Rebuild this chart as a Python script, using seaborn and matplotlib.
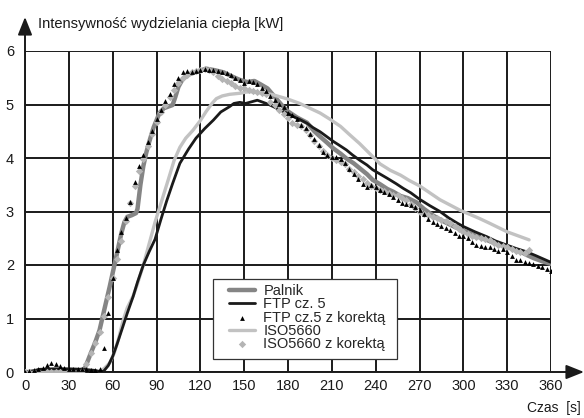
import numpy as np
import pandas as pd
import matplotlib
matplotlib.use("Agg")
import matplotlib.pyplot as plt
from matplotlib.patches import Rectangle
import seaborn as sns

# ---------------- data ----------------
palnik_t = [0, 10, 20, 30, 38, 41, 45, 48, 51, 55, 58, 60, 62, 64, 66, 68, 70, 73, 76, 77, 79, 81, 83, 85, 88, 92,
            95, 98, 101, 103, 105, 108, 112, 117, 124, 130, 136, 142, 147, 152, 157, 161, 166, 171, 176, 180, 186,
            193, 198, 202, 207, 211, 216, 220, 225, 229, 234, 238, 243, 248, 252, 257, 262, 268, 273, 279, 284,
            289, 295, 302, 308, 316, 322, 330, 335, 339, 344, 348, 354, 360]
palnik_v = [0, 0, 0.02, 0.03, 0.03, 0.07, 0.35, 0.55, 0.78, 1.25, 1.6, 1.85, 2.1, 2.35, 2.6, 2.8, 2.9, 2.93, 2.97,
            3.05, 3.5, 3.85, 4.1, 4.3, 4.57, 4.84, 4.93, 4.96, 4.99, 5.15, 5.33, 5.48, 5.56, 5.61, 5.67, 5.64, 5.60,
            5.52, 5.46, 5.42, 5.44, 5.38, 5.30, 5.14, 4.98, 4.87, 4.76, 4.66, 4.50, 4.40, 4.28, 4.18, 4.08, 3.99,
            3.90, 3.81, 3.70, 3.59, 3.51, 3.42, 3.37, 3.29, 3.25, 3.17, 3.05, 2.93, 2.85, 2.78, 2.70, 2.62, 2.55,
            2.47, 2.40, 2.34, 2.29, 2.25, 2.18, 2.13, 2.07, 2.02]

ftp_t = [0, 5, 10, 20, 30, 40, 48, 52, 54, 57, 60, 63, 67, 70, 74, 77, 81, 85, 89, 93, 97, 101, 106, 112, 117, 123,
         129, 134, 140, 143, 147, 151, 155, 159, 163, 166, 170, 175, 180, 184, 188, 193, 197, 202, 206, 211, 215,
         220, 224, 229, 234, 238, 243, 248, 254, 259, 264, 270, 277, 284, 290, 296, 300, 308, 316, 322, 330, 336,
         343, 350, 355, 360]
ftp_v = [0, 0.02, 0.05, 0.06, 0.06, 0.05, 0.03, 0.0, 0.02, 0.12, 0.29, 0.52, 0.85, 1.1, 1.41, 1.68, 2.0, 2.25, 2.48,
         2.85, 3.2, 3.52, 3.9, 4.17, 4.37, 4.55, 4.71, 4.86, 4.96, 5.02, 5.04, 5.02, 5.05, 5.08, 5.04, 5.01, 4.96,
         4.89, 4.83, 4.77, 4.72, 4.65, 4.57, 4.49, 4.41, 4.31, 4.24, 4.15, 4.06, 3.96, 3.87, 3.78, 3.70, 3.62,
         3.52, 3.43, 3.35, 3.23, 3.11, 3.00, 2.88, 2.78, 2.72, 2.62, 2.53, 2.45, 2.37, 2.31, 2.25, 2.17, 2.11, 2.05]

iso_t = [0, 10, 20, 30, 40, 48, 51, 54, 58, 61, 64, 67, 70, 74, 77, 81, 85, 89, 93, 98, 102, 106, 110, 115, 120,
         124, 128, 131, 135, 140, 147, 151, 154, 160, 165, 170, 175, 180, 188, 195, 202, 209, 216, 222, 229, 236,
         243, 250, 257, 263, 270, 277, 284, 291, 298, 305, 311, 318, 324, 330, 336, 341, 345]
iso_v = [0, 0, 0, 0, 0, 0, 0.02, 0.06, 0.17, 0.35, 0.62, 0.95, 1.2, 1.42, 1.65, 2.0, 2.4, 2.8, 3.15, 3.59, 3.95,
         4.2, 4.37, 4.52, 4.7, 4.87, 5.02, 5.11, 5.16, 5.19, 5.21, 5.23, 5.24, 5.22, 5.21, 5.18, 5.14, 5.10, 5.02,
         4.93, 4.84, 4.72, 4.59, 4.44, 4.27, 4.08, 3.89, 3.77, 3.68, 3.58, 3.48, 3.35, 3.22, 3.12, 3.02, 2.94,
         2.87, 2.78, 2.70, 2.62, 2.56, 2.51, 2.47]

ftpk_t = list(range(0, 361, 3))
ftpk_v = [0.0, 0.02, 0.03, 0.05, 0.08, 0.13, 0.16, 0.15, 0.11, 0.07, 0.06, 0.06, 0.05, 0.05, 0.05, 0.04, 0.04,
          0.05, 0.45, 1.1, 1.75, 2.28, 2.62, 2.88, 3.18, 3.55, 3.85, 4.06, 4.3, 4.5, 4.72, 4.9, 5.06, 5.2, 5.38,
          5.5, 5.6, 5.62, 5.6, 5.63, 5.64, 5.67, 5.65, 5.64, 5.63, 5.6, 5.58, 5.56, 5.5, 5.46, 5.4, 5.44, 5.42,
          5.38, 5.3, 5.25, 5.16, 5.08, 5.01, 4.95, 4.85, 4.8, 4.72, 4.62, 4.57, 4.45, 4.36, 4.24, 4.12, 4.05, 4.02,
          4.02, 3.98, 3.9, 3.8, 3.7, 3.6, 3.52, 3.45, 3.5, 3.45, 3.4, 3.36, 3.33, 3.28, 3.22, 3.16, 3.14, 3.12,
          3.08, 3.03, 2.95, 2.86, 2.8, 2.76, 2.72, 2.7, 2.66, 2.6, 2.55, 2.54, 2.5, 2.43, 2.38, 2.36, 2.34, 2.33,
          2.3, 2.26, 2.3, 2.25, 2.16, 2.1, 2.09, 2.06, 2.04, 2.02, 1.99, 1.96, 1.92, 1.88]

isok_t = list(range(0, 346, 3))
isok_v = [0, 0, 0, 0, 0, 0, 0, 0, 0, 0, 0, 0, 0, 0.01, 0.15, 0.35, 0.55, 0.75, 1.05, 1.4, 1.75, 2.12, 2.45, 2.82,
          3.15, 3.47, 3.75, 3.98, 4.22, 4.45, 4.68, 4.86, 5.0, 5.14, 5.27, 5.4, 5.5, 5.56, 5.6, 5.62, 5.64, 5.66,
          5.64, 5.6, 5.53, 5.47, 5.44, 5.4, 5.35, 5.31, 5.3, 5.28, 5.26, 5.24, 5.22, 5.2, 5.05, 5.0, 4.9, 4.82,
          4.74, 4.66, 4.62, 4.59, 4.53, 4.43, 4.32, 4.22, 4.14, 4.06, 4.0, 3.97, 3.93, 3.88, 3.8, 3.74, 3.67, 3.6,
          3.53, 3.47, 3.43, 3.4, 3.38, 3.35, 3.31, 3.3, 3.26, 3.21, 3.14, 3.07, 3.0, 2.96, 2.93, 2.9, 2.88, 2.85,
          2.82, 2.78, 2.72, 2.67, 2.62, 2.58, 2.55, 2.52, 2.5, 2.48, 2.46, 2.42, 2.38, 2.35, 2.34, 2.3, 2.26, 2.24,
          2.22, 2.28]

x_ticks = [0, 30, 60, 90, 120, 150, 180, 210, 240, 270, 300, 330, 360]
y_ticks = [0, 1, 2, 3, 4, 5, 6]
ylabel = "Intensywność wydzielania ciepła [kW]"
xlabel = "Czas  [s]"

# ---------------- plot ----------------
sns.set_theme(style="white")
plt.rcParams["font.family"] = ["Liberation Sans", "DejaVu Sans"]

W, H = 584, 418
fig = plt.figure(figsize=(W / 100, H / 100), dpi=100)
x0, x1, y0, y1 = 25, 551, 51, 372
ax = fig.add_axes([x0 / W, 1 - y1 / H, (x1 - x0) / W, (y1 - y0) / H])

sns.lineplot(x=palnik_t, y=palnik_v, ax=ax, color="#858585", lw=3.2, label="Palnik", zorder=3)
sns.lineplot(x=ftp_t, y=ftp_v, ax=ax, color="#1a1a1a", lw=2.0, label="FTP cz. 5", zorder=4)
sns.scatterplot(x=ftpk_t, y=ftpk_v, ax=ax, color="black", marker="^", s=12, linewidth=0,
                label="FTP cz.5 z korektą", zorder=5)
sns.lineplot(x=iso_t, y=iso_v, ax=ax, color="#c2c2c2", lw=2.4, label="ISO5660", zorder=3)
sns.scatterplot(x=isok_t, y=isok_v, ax=ax, color="#b4b4b4", marker="D", s=14, linewidth=0,
                label="ISO5660 z korektą", zorder=4)

ax.set_xlim(0, 360)
ax.set_ylim(0, 6)
ax.set_xticks(x_ticks)
ax.set_yticks(y_ticks)
ax.grid(True, color="#1a1a1a", lw=1.4)
ax.set_axisbelow(True)
for s in ax.spines.values():
    s.set_visible(False)
ax.tick_params(length=0, labelsize=10.5, colors="#1a1a1a")
ax.tick_params(axis="x", pad=5)
ax.tick_params(axis="y", pad=8)
ax.set_xlabel("")
ax.set_ylabel("")

# axis arrows
arrow_style = "-|>,head_length=0.9,head_width=0.36"
ax.annotate("", xy=(0, (y1 - 17) / (y1 - y0)), xytext=(0, 0), xycoords="axes fraction",
            arrowprops=dict(arrowstyle=arrow_style, color="#1a1a1a", lw=1.4, shrinkA=0, shrinkB=0),
            annotation_clip=False)
ax.annotate("", xy=((584 - x0) / (x1 - x0), 0), xytext=(0, 0), xycoords="axes fraction",
            arrowprops=dict(arrowstyle=arrow_style, color="#1a1a1a", lw=1.4, shrinkA=0, shrinkB=0),
            annotation_clip=False)

fig.text(38 / W, 1 - 28 / H, ylabel, fontsize=10.5, va="baseline", ha="left", color="#1a1a1a")
fig.text(581 / W, 1 - 408 / H, xlabel, fontsize=10, va="center", ha="right", color="#1a1a1a")

# legend box (fixed size as in the reference)
box = Rectangle((213 / W, 1 - 359 / H), (397 - 213) / W, (359 - 279) / H, transform=fig.transFigure,
                facecolor="white", edgecolor="#333333", lw=0.9, zorder=9)
ax.add_patch(box)
box.set_clip_on(False)

leg = ax.legend(loc="upper left", bbox_to_anchor=(229 / W, 1 - 284 / H), bbox_transform=fig.transFigure,
                borderaxespad=0, borderpad=0, frameon=False, fontsize=10.5, handlelength=1.8,
                labelspacing=-0.05, handletextpad=0.55, markerscale=1.0)
leg.set_zorder(10)

fig.savefig("out.png", dpi=100)
